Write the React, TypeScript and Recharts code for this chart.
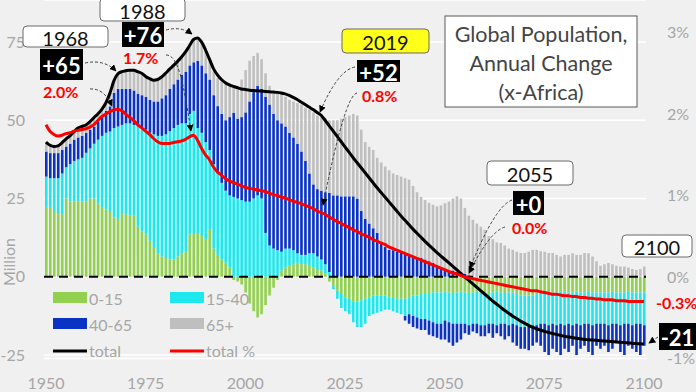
import React from 'react';
import { ComposedChart, Bar, Line, XAxis, YAxis, CartesianGrid, ReferenceLine } from 'recharts';

const START_YEAR = 1950;
const NEG_40_65_START = 2040;

// annual change in million, by age group (x-Africa)
const age0to15 = [
  22, 22, 21, 20, 20, 25, 24, 24, 24, 24,
  24, 25, 25, 23.5, 22, 21.5, 21, 19, 18.5, 20,
  20, 19.5, 19.5, 16, 14.5, 13.5, 11.5, 9.5, 7.5, 6.5,
  6, 5.5, 5.5, 6.5, 7.5, 8, 13.5, 14, 14, 13,
  12, 15, 9, 7, 5.5, 4.5, 3, -1, -1.5, -2.5,
  -5, -8.5, -11, -13, -12, -9, -6, -3.5, -1, 2,
  3, 3.5, 4, 4.5, 4, 4, 3.5, 3, 2.5, 2,
  1, -1.5, -3, -4.5, -5.5, -6.5, -7, -8, -8, -7.5,
  -7, -6.5, -6, -6, -6, -6, -6.5, -6.5, -7, -7,
  -7, -6.5, -6, -6, -5.5, -5.5, -5.5, -5, -5, -5,
  -4.8, -5, -5.2, -5, -4.8, -5, -5.2, -5, -4.8, -5,
  -5, -5.2, -5, -4.8, -5, -5.2, -5, -5, -5.5, -6,
  -6, -6, -6, -5.5, -5, -5, -4.8, -5, -5, -4.8,
  -4.8, -5, -5, -4.8, -5, -5, -4.8, -5, -5, -5,
  -5, -5, -4.8, -5, -5, -5, -4.8, -5, -5, -5, -5,
];

const age15to40 = [
  10, 9.5, 10.5, 11.5, 13, 10, 12, 13, 13.5, 14,
  15.6, 16, 17.5, 20.3, 23, 24.5, 25.4, 28.5, 29.5, 28.5,
  29, 29.5, 29, 32, 33, 33.5, 34.5, 36, 37.5, 38.5,
  39.5, 41, 42, 42, 41.5, 41, 38.5, 39, 33.5, 33,
  31, 25.5, 27, 26, 24.5, 23, 23, 25.5, 25, 24.5,
  24, 24, 25, 26, 25, 14, 10, 9, 8.5, 6,
  6, 5.5, 4.5, 3, 3, 3, 4, 4.5, 4, 3.5,
  3, 1.5, -1, -2.5, -4.5, -4.5, -5, -6.5, -8, -8.5,
  -8, -6, -6, -5.5, -5, -4.5, -4, -4.5, -4.5, -5,
  -5.5, -5.5, -6.5, -7, -8, -8, -8.5, -9.5, -10, -10,
  -9.2, -9.5, -9.8, -10, -10.2, -10, -10.3, -10, -10.2, -10.5,
  -10.5, -9.8, -10, -10.7, -10, -9.8, -10.5, -10, -10, -10,
  -10, -10, -9.5, -10, -10, -10, -10.7, -10, -10.5, -10.2,
  -10.7, -10, -10.5, -10.2, -10.5, -10, -10.2, -10.5, -10, -10,
  -10, -10.5, -10.2, -10, -10.5, -10, -10.2, -10.5, -10, -10, -10.5,
];

// growing part of the 40-65 group (1950-2059, none afterwards)
const age40to65 = [
  8, 8, 8, 8, 7.5, 6.6, 6.5, 6.8, 7, 7,
  6.4, 6, 5.5, 5.7, 6.2, 7, 8, 11.2, 12, 11.5,
  11, 11, 11, 10.5, 10.5, 10.5, 10.5, 10.5, 11, 12,
  12.5, 13.5, 14, 14.5, 15.5, 16.5, 15.5, 15.5, 21.5, 21.5,
  22, 22.5, 22, 21.5, 22, 22.5, 25, 26.9, 25.5, 26.5,
  28.5, 32, 34, 35, 35, 43.5, 45, 43, 41.5, 41,
  39, 37, 36, 35, 33, 30, 25.5, 22, 21.5, 22,
  23, 25.3, 26, 26, 25.7, 25.7, 25.7, 25.7, 25, 21,
  18.5, 17, 15.5, 14, 11, 9.5, 8.6, 8.5, 8, 7.6,
  7.5, 7, 6.5, 6, 6, 5.5, 5, 4.5, 3.5, 3,
  2.5, 2, 2, 1.5, 1.5, 1, 0.5, 0, 0, 0,
];

// shrinking part of the 40-65 group (2040-2100)
const age40to65Neg = [
  -1.5, -3, -3.5, -3.5, -3.5, -3.5, -4.5, -4.5, -4.5, -5,
  -6, -6.5, -7, -6, -5, -3, -3, -2.5, -3, -3.5,
  -3.5, -3, -4.5, -2.5, -4, -5, -3.5, -6, -6.5, -7,
  -7, -7.5, -6.5, -5.5, -7, -9, -9.5, -8, -8.5, -10,
  -7.5, -9, -6.5, -10, -7.5, -7, -9, -9.5, -7, -8,
  -7, -8.5, -8, -6, -8.5, -10, -7, -7.5, -9, -10, -6.5,
];

const age65plus = [
  3, 2.8, 2.5, 2.5, 2.5, 2.4, 2.5, 2.7, 3, 3.5,
  2.5, 2.5, 2.8, 2.5, 2.3, 2.5, 4.1, 3.8, 4.8, 5.5,
  5.8, 6, 6.5, 7, 7, 6.5, 6.8, 6.8, 7, 6.8,
  7, 6.3, 6, 5.8, 5.7, 6.3, 6.3, 7.3, 7.3, 7.5,
  7.5, 6.3, 7.5, 9, 10.5, 12, 10.5, 8.6, 10.5, 12,
  13.5, 13, 11.5, 10.5, 9.5, 7.5, 6, 6.5, 8.5, 9.5,
  9.5, 10.5, 11.5, 13, 15, 17, 20.4, 23, 23.5, 23.5,
  23.5, 23.2, 24, 24, 24.8, 25.3, 25.8, 26.3, 26.5, 26,
  24.5, 24.5, 25, 24, 25.5, 25.7, 25.4, 24.5, 24.5, 24.4,
  24, 24, 22.5, 21, 19.5, 19, 18.6, 18.5, 19, 19.8,
  21, 22, 23, 24.2, 23.5, 21, 19, 18.2, 17, 16,
  15, 13, 12, 11, 10.8, 10, 9, 8.6, 8, 7.6,
  7.6, 8, 8.6, 8.6, 8.2, 8, 7.6, 7.6, 7, 6.5,
  7, 7, 7.5, 7, 7, 7.6, 7.5, 6.5, 5, 3.5,
  4, 4.4, 4, 3.5, 3.3, 3.3, 3, 2.5, 2.2, 2.5, 3.3,
];

const totalChange = [
  43, 42, 41.6, 41.8, 42.8, 44, 45, 46.3, 47.5, 48,
  48.5, 49.5, 50.8, 52, 53.5, 55.5, 58.5, 62.5, 64.8, 65.5,
  65.8, 66, 66, 65.5, 65, 64, 63.3, 62.8, 63, 63.8,
  65, 66.3, 67.5, 68.8, 70.2, 71.8, 73.8, 75.8, 76.3, 75,
  72.5, 69.5, 66.5, 64.5, 63, 62, 61.3, 60.8, 60.4, 60,
  59.8, 59.6, 59.5, 59.4, 59.3, 59.2, 59.1, 59, 58.9, 58.7,
  58.4, 57.9, 57.3, 56.6, 55.8, 55, 54.2, 53.4, 52.5, 51.6,
  50, 48.3, 46.6, 44.9, 43.2, 41.5, 39.8, 38.1, 36.5, 34.9,
  33.3, 31.7, 30.1, 28.5, 27, 25.5, 24, 22.5, 21, 19.5,
  18.1, 16.7, 15.3, 14, 12.7, 11.4, 10.2, 9, 7.8, 6.7,
  5.6, 4.5, 3.4, 2.3, 1.1, 0, -1.1, -2.2, -3.3, -4.4,
  -5.5, -6.6, -7.7, -8.7, -9.7, -10.7, -11.6, -12.5, -13.3, -14.1,
  -14.8, -15.5, -16.1, -16.6, -17, -17.4, -17.8, -18.1, -18.4, -18.7,
  -19, -19.2, -19.4, -19.6, -19.8, -20, -20.1, -20.2, -20.3, -20.4,
  -20.5, -20.6, -20.7, -20.8, -20.9, -21, -21.1, -21.2, -21.3, -21.4, -21.5,
];

// annual change in percent
const totalPct = [
  1.87, 1.79, 1.75, 1.73, 1.74, 1.76, 1.77, 1.79, 1.8, 1.81,
  1.82, 1.84, 1.87, 1.92, 1.97, 2.0, 2.03, 2.05, 2.06, 2.04,
  2.0, 1.96, 1.92, 1.87, 1.83, 1.79, 1.75, 1.7, 1.66, 1.64,
  1.64, 1.64, 1.65, 1.66, 1.67, 1.69, 1.72, 1.74, 1.68, 1.58,
  1.5, 1.44, 1.35, 1.29, 1.25, 1.21, 1.18, 1.16, 1.14, 1.12,
  1.1, 1.09, 1.08, 1.07, 1.06, 1.05, 1.03, 1.01, 1.0, 0.98,
  0.97, 0.95, 0.93, 0.92, 0.9, 0.88, 0.86, 0.84, 0.81, 0.79,
  0.77, 0.74, 0.71, 0.68, 0.66, 0.63, 0.61, 0.58, 0.56, 0.53,
  0.51, 0.49, 0.46, 0.44, 0.42, 0.4, 0.37, 0.35, 0.33, 0.31,
  0.29, 0.27, 0.25, 0.23, 0.21, 0.19, 0.17, 0.15, 0.13, 0.11,
  0.09, 0.07, 0.05, 0.04, 0.02, 0.0, -0.01, -0.02, -0.03, -0.04,
  -0.05, -0.06, -0.07, -0.08, -0.09, -0.1, -0.11, -0.12, -0.13, -0.14,
  -0.15, -0.16, -0.17, -0.17, -0.18, -0.19, -0.2, -0.21, -0.21, -0.22,
  -0.23, -0.23, -0.24, -0.24, -0.25, -0.25, -0.26, -0.26, -0.27, -0.27,
  -0.28, -0.28, -0.28, -0.29, -0.29, -0.29, -0.3, -0.3, -0.3, -0.3, -0.3,
];

const leftTicks = [-25, 0, 25, 50, 75];
const rightTicks = [-1, 0, 1, 2, 3];

const GREEN = '#92d050';
const CYAN = '#1ee8ee';
const BLUE = '#0a33c4';
const GREY = '#bfbfbf';
const AXIS_TEXT = '#a6a6a6';
const FONT = 'Lato, "Open Sans", sans-serif';

const data = age0to15.map((v, i) => {
  const year = START_YEAR + i;
  return {
    year,
    a0: v,
    a15: age15to40[i],
    a40: age40to65[i] ?? 0,
    a40n: year >= NEG_40_65_START ? age40to65Neg[year - NEG_40_65_START] : 0,
    a65: age65plus[i],
    total: totalChange[i],
    pct: totalPct[i],
  };
});

const tickStyle = { fill: AXIS_TEXT, fontSize: 16, fontFamily: FONT };

const YearBox = ({ x, y, w, h, label, bg = '#fff' }: any) => (
  <g>
    <rect x={x} y={y} width={w} height={h} rx={4} fill={bg} stroke="#6b6b6b" strokeWidth={1} />
    <text x={x + w / 2} y={y + h / 2 + 1} textAnchor="middle" dominantBaseline="central" fontSize={20} fill="#111">{label}</text>
  </g>
);

const ValueBox = ({ x, y, w, h, label }: any) => (
  <g>
    <rect x={x} y={y} width={w} height={h} fill="#000" />
    <text x={x + w / 2} y={y + h / 2 + 1} textAnchor="middle" dominantBaseline="central" fontSize={22} fontWeight={700} fill="#fff">{label}</text>
  </g>
);

const Pct = ({ x, y, label, anchor = 'start' }: any) => (
  <text x={x} y={y} textAnchor={anchor} dominantBaseline="central" fontSize={16} fontWeight={700} fill="#ff0000">{label}</text>
);

const Arrow = ({ d }: { d: string }) => (
  <path d={d} fill="none" stroke="#404040" strokeWidth={1} strokeDasharray="3 2" markerEnd="url(#arrowHead)" />
);

const Overlay = () => (
  <svg width={696} height={392} style={{ position: 'absolute', left: 0, top: 0, pointerEvents: 'none', fontFamily: FONT }}>
    <defs>
      <marker id="arrowHead" viewBox="0 0 10 10" refX="9" refY="5" markerWidth="7" markerHeight="7" orient="auto">
        <path d="M0,0 L10,5 L0,10 z" fill="#000" />
      </marker>
    </defs>

    <text transform="translate(15,262) rotate(-90)" textAnchor="middle" fontSize={16} fill={AXIS_TEXT}>Million</text>

    {/* legend */}
    <rect x={53} y={292} width={34} height={11} fill={GREEN} />
    <text x={89} y={298} dominantBaseline="central" fontSize={16} fill={AXIS_TEXT}>0-15</text>
    <rect x={170} y={292} width={34} height={11} fill={CYAN} />
    <text x={206} y={298} dominantBaseline="central" fontSize={16} fill={AXIS_TEXT}>15-40</text>
    <rect x={53} y={318} width={34} height={11} fill={BLUE} />
    <text x={89} y={324} dominantBaseline="central" fontSize={16} fill={AXIS_TEXT}>40-65</text>
    <rect x={170} y={318} width={34} height={11} fill={GREY} />
    <text x={206} y={324} dominantBaseline="central" fontSize={16} fill={AXIS_TEXT}>65+</text>
    <line x1={53} x2={87} y1={351} y2={351} stroke="#000" strokeWidth={3} />
    <text x={89} y={350} dominantBaseline="central" fontSize={16} fill={AXIS_TEXT}>total</text>
    <line x1={170} x2={204} y1={351} y2={351} stroke="#ff0000" strokeWidth={3} />
    <text x={206} y={350} dominantBaseline="central" fontSize={16} fill={AXIS_TEXT}>total %</text>

    {/* title */}
    <rect x={445} y={16} width={192} height={91} fill="#fff" stroke="#595959" strokeWidth={1} />
    <text x={541} y={34} textAnchor="middle" dominantBaseline="central" fontSize={21.5} fill="#444">Global Population,</text>
    <text x={541} y={63} textAnchor="middle" dominantBaseline="central" fontSize={21.5} fill="#444">Annual Change</text>
    <text x={541} y={92} textAnchor="middle" dominantBaseline="central" fontSize={21.5} fill="#444">(x-Africa)</text>

    {/* callouts */}
    <Arrow d="M85,63 Q104,59 116,71" />
    <Arrow d="M90,89 Q104,88 112,106" />
    <YearBox x={23} y={26} w={85} h={21} label="1968" />
    <ValueBox x={40} y={49} w={43} h={31} label="+65" />
    <Pct x={43} y={91} label="2.0%" />

    <Arrow d="M166,30 Q181,26 192,34" />
    <Arrow d="M166,55 C178,55 183,80 191,131" />
    <YearBox x={100} y={-2} w={85} h={23} label="1988" />
    <ValueBox x={122} y={22} w={42} h={25} label="+76" />
    <Pct x={123} y={57} label="1.7%" />

    <Arrow d="M355,67 Q338,70 320,112" />
    <Arrow d="M357,93 Q345,95 323,205" />
    <YearBox x={342} y={29} w={87} h={24} label="2019" bg="#ffff1a" />
    <ValueBox x={357} y={60} w={43} h={22} label="+52" />
    <Pct x={362} y={95} label="0.8%" />

    <Arrow d="M512,200 Q495,206 470,268" />
    <Arrow d="M505,227 Q490,231 469,273" />
    <YearBox x={487} y={161} w={86} h={24} label="2055" />
    <ValueBox x={513} y={191} w={31} h={24} label="+0" />
    <Pct x={512} y={227} label="0.0%" />

    <Arrow d="M658,337 L649,343" />
    <YearBox x={622} y={235} w={70} h={22} label="2100" />
    <Pct x={656} y={302} label="-0.3%" />
    <ValueBox x={659} y={323} w={37} h={27} label="-21" />
  </svg>
);

export default function App() {
  return (
    <div style={{ position: 'absolute', left: 0, top: 0, width: 696, height: 392, background: '#f0f0f0', overflow: 'hidden' }}>
      <ComposedChart
        width={696}
        height={392}
        data={data}
        margin={{ top: 0, right: 4, bottom: 0, left: 4 }}
        stackOffset="sign"
        barSize={2.6}
      >
        <CartesianGrid yAxisId="left" vertical={false} stroke="#ffffff" strokeWidth={1.5} />
        <XAxis dataKey="year" interval={24} tickLine={false} axisLine={false} tickSize={0} tickMargin={19} height={33.5} tick={tickStyle} />
        <YAxis
          yAxisId="left"
          domain={[-26.1, 88.4]}
          ticks={leftTicks}
          allowDataOverflow
          width={40}
          tickLine={false}
          axisLine={false}
          tickSize={0}
          tickMargin={19}
          tick={tickStyle}
        />
        <YAxis
          yAxisId="right"
          orientation="right"
          domain={[-1, 3.4]}
          ticks={rightTicks}
          allowDataOverflow
          width={46}
          tickLine={false}
          axisLine={false}
          tickSize={0}
          tickMargin={21}
          tick={tickStyle}
          tickFormatter={(v: number) => `${v}%`}
        />
        <Bar yAxisId="left" dataKey="a0" stackId="age" fill={GREEN} isAnimationActive={false} />
        <Bar yAxisId="left" dataKey="a15" stackId="age" fill={CYAN} isAnimationActive={false} />
        <Bar yAxisId="left" dataKey="a40" stackId="age" fill={BLUE} isAnimationActive={false} />
        <Bar yAxisId="left" dataKey="a40n" stackId="age" fill={BLUE} isAnimationActive={false} />
        <Bar yAxisId="left" dataKey="a65" stackId="age" fill={GREY} isAnimationActive={false} />
        <ReferenceLine yAxisId="left" y={0} stroke="#000" strokeWidth={2} strokeDasharray="9 6" />
        <Line yAxisId="left" dataKey="total" type="monotone" stroke="#000" strokeWidth={3} dot={false} isAnimationActive={false} />
        <Line yAxisId="right" dataKey="pct" type="monotone" stroke="#ff0000" strokeWidth={3} dot={false} isAnimationActive={false} />
      </ComposedChart>
      <Overlay />
    </div>
  );
}
